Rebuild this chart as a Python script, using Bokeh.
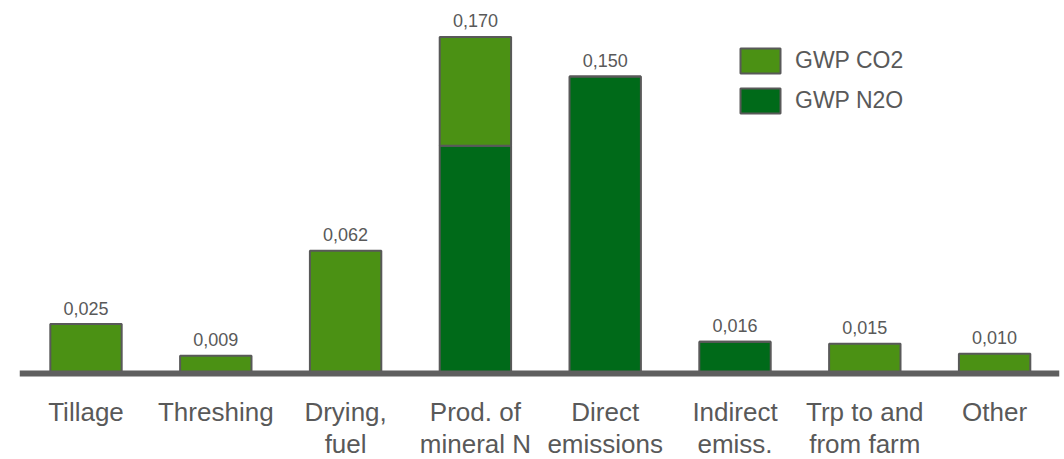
from bokeh.plotting import figure
from bokeh.models import ColumnDataSource, Span, Legend, LegendItem, Range1d
from bokeh.core.properties import value
from bokeh.embed import file_html
from bokeh.resources import INLINE

categories = ["Tillage", "Threshing", "Drying,\nfuel", "Prod. of\nmineral N",
              "Direct\nemissions", "Indirect\nemiss.", "Trp to and\nfrom farm", "Other"]
gwp_co2 = [0.025, 0.009, 0.062, 0.055, 0.0, 0.0, 0.015, 0.010]
gwp_n2o = [0.0, 0.0, 0.0, 0.115, 0.150, 0.016, 0.0, 0.0]
series_names = ["GWP CO2", "GWP N2O"]

CO2_COLOR = "#4b9114"
N2O_COLOR = "#006a19"
EDGE = "#595959"
TEXT = "#595959"
FONT_NAME = "Liberation Sans"
FONT = value(FONT_NAME)

x = list(range(len(categories)))
totals = [a + b for a, b in zip(gwp_co2, gwp_n2o)]
total_labels = [f"{t:.3f}".replace(".", ",") for t in totals]

src = ColumnDataSource(dict(x=x, cat=categories, co2=gwp_co2, n2o=gwp_n2o,
                            total=totals, tlabel=total_labels))

px_per_unit = 1980.0
base_px = 373.0
H = 459
W = 1064
p = figure(width=W, height=H, output_backend="svg", toolbar_location=None,
           x_range=Range1d(-0.5123, 7.4999),
           y_range=Range1d(-(H - base_px) / px_per_unit, base_px / px_per_unit),
           x_axis_location=None, y_axis_location=None,
           min_border_left=19, min_border_right=5, min_border_top=0, min_border_bottom=0)
p.grid.visible = False
p.outline_line_color = None
p.background_fill_color = "white"

r_n2o = p.vbar(x="x", width=0.55, bottom=0, top="n2o", source=src,
               fill_color=N2O_COLOR, line_color=EDGE, line_width=2)
src2 = ColumnDataSource(dict(x=x, bottom=gwp_n2o, top=totals))
r_co2 = p.vbar(x="x", width=0.55, bottom="bottom", top="top", source=src2,
               fill_color=CO2_COLOR, line_color=EDGE, line_width=2)

p.add_layout(Span(location=0, dimension="width", line_color="#5f5f5f", line_width=6))

p.text(x="x", y="total", text="tlabel", source=src, text_font=FONT,
       text_font_size="18px", text_color=TEXT, text_align="center",
       text_baseline="alphabetic", y_offset=-16)

p.text(x="x", y=0, text="cat", source=src, text_font=FONT,
       text_font_size="26px", text_color=TEXT, text_align="center",
       text_baseline="top", y_offset=23, text_line_height=1.09)

legend = Legend(items=[LegendItem(label=series_names[0], renderers=[r_co2]),
                       LegendItem(label=series_names[1], renderers=[r_n2o])],
                location=(716, 343), orientation="vertical",
                glyph_width=50, glyph_height=31, spacing=9, padding=0, margin=0,
                label_standoff=10, label_text_font=FONT_NAME, label_text_font_size="23px",
                label_text_color=TEXT, border_line_color=None,
                background_fill_alpha=0, label_height=31)
p.add_layout(legend)

open("out.html", "w").write(file_html(p, INLINE))
